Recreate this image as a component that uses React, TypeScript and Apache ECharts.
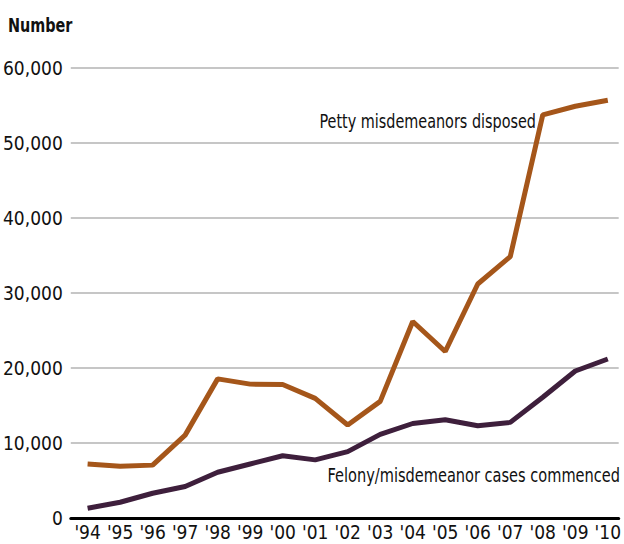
import React, { useEffect, useRef } from "react";
import * as echarts from "echarts";

const years = [1994, 1995, 1996, 1997, 1998, 1999, 2000, 2001, 2002, 2003, 2004, 2005, 2006, 2007, 2008, 2009, 2010];
const pettyDisposed = [7200, 6900, 7050, 11050, 18550, 17850, 17800, 15950, 12400, 15550, 26200, 22200, 31200, 34850, 53750, 54900, 55700];
const felonyCommenced = [1300, 2100, 3300, 4200, 6100, 7200, 8300, 7750, 8850, 11150, 12600, 13100, 12300, 12750, 16100, 19600, 21200];
const yTicks = [0, 10000, 20000, 30000, 40000, 50000, 60000];

const FONT = "'DejaVu Sans Condensed', 'Liberation Sans Narrow', 'Roboto', sans-serif";

export default function App() {
  const ref = useRef<HTMLDivElement>(null);
  useEffect(() => {
    if (!ref.current) return;
    const chart = echarts.init(ref.current, null, { renderer: "svg" });
    chart.setOption({
      animation: false,
      backgroundColor: "#ffffff",
      grid: { left: 70, right: 0, top: 68, bottom: 26, containLabel: false },
      xAxis: {
        type: "value",
        min: 1993.483,
        max: 2010.335,
        splitLine: { show: false },
        axisTick: { show: false },
        axisLine: { show: true, onZero: false, lineStyle: { color: "#000000", width: 3 } },
        axisLabel: {
          customValues: years,
          formatter: (v: number) => "'" + String(Math.round(v)).slice(2),
          color: "#111111",
          fontFamily: FONT,
          fontSize: 19,
          margin: 4,
        },
      },
      yAxis: {
        type: "value",
        min: yTicks[0],
        max: yTicks[yTicks.length - 1],
        interval: 10000,
        axisLine: { show: false },
        axisTick: { show: false },
        splitLine: { show: true, lineStyle: { color: "#b3b3b3", width: 1.5 } },
        axisLabel: {
          formatter: (v: number) => v.toLocaleString("en-US"),
          color: "#111111",
          fontFamily: FONT,
          fontSize: 19,
          margin: 8,
        },
      },
      series: [
        {
          name: "Petty misdemeanors disposed",
          type: "line",
          data: years.map((y, i) => [y, pettyDisposed[i]]),
          showSymbol: false,
          symbol: "none",
          lineStyle: { color: "#a5561a", width: 5 },
          z: 3,
        },
        {
          name: "Felony/misdemeanor cases commenced",
          type: "line",
          data: years.map((y, i) => [y, felonyCommenced[i]]),
          showSymbol: false,
          symbol: "none",
          lineStyle: { color: "#3e1f3c", width: 5 },
          z: 3,
        },
      ],
      graphic: [
        {
          type: "text",
          x: 8,
          y: 25,
          scaleX: 0.8,
          style: {
            text: "Number",
            fontFamily: FONT,
            fontSize: 20,
            fontWeight: "bold",
            fill: "#111111",
            verticalAlign: "middle",
          },
        },
        {
          type: "text",
          x: 536,
          y: 121,
          scaleX: 0.8,
          style: {
            text: "Petty misdemeanors disposed",
            fontFamily: FONT,
            fontSize: 20,
            fill: "#111111",
            align: "right",
            verticalAlign: "middle",
          },
        },
        {
          type: "text",
          x: 620,
          y: 475,
          scaleX: 0.81,
          style: {
            text: "Felony/misdemeanor cases commenced",
            fontFamily: FONT,
            fontSize: 20,
            fill: "#111111",
            align: "right",
            verticalAlign: "middle",
          },
        },
      ],
    });
    return () => chart.dispose();
  }, []);
  return <div ref={ref} style={{ width: 624, height: 544, position: "absolute", left: 0, top: 0 }} />;
}
